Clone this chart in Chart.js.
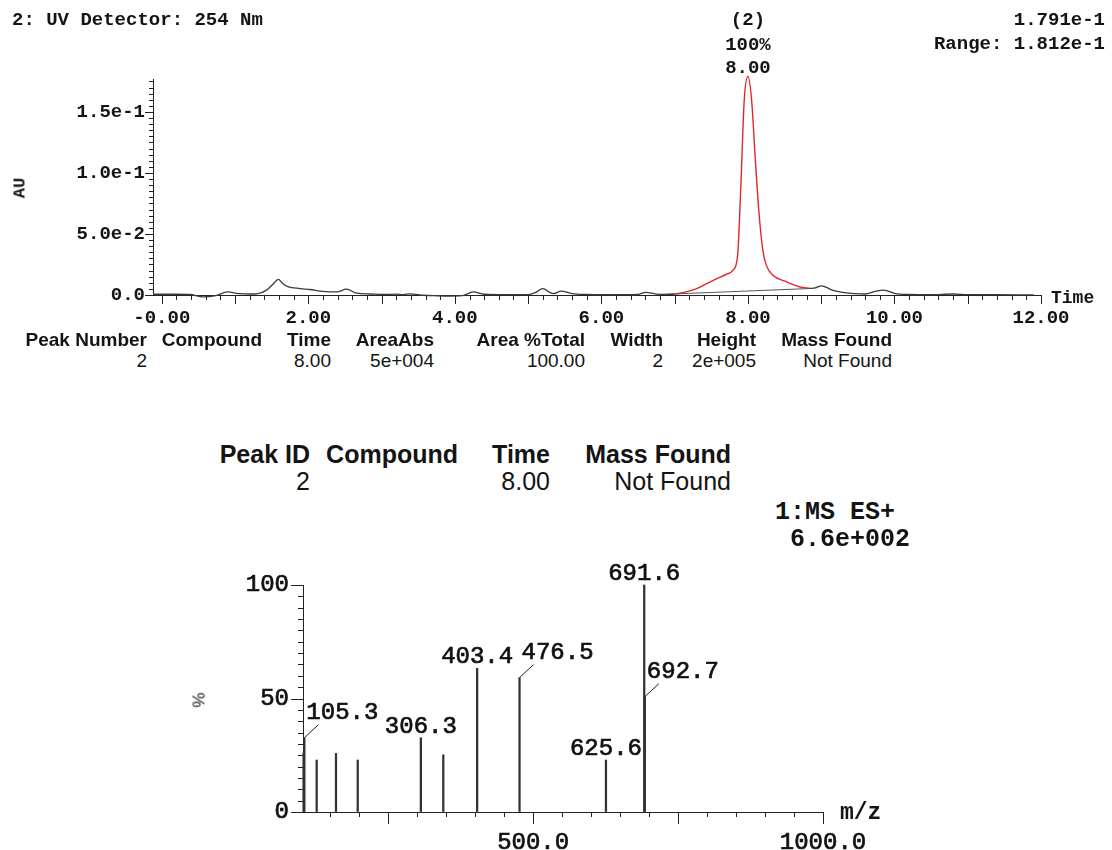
<!DOCTYPE html>
<html>
<head>
<meta charset="utf-8">
<title>UV / MS report</title>
<script src="https://cdn.jsdelivr.net/npm/chart.js@4.4.1/dist/chart.umd.min.js"></script>
<style>
  body { margin: 0; background: #fff; width: 1112px; height: 850px; position: relative; overflow: hidden; }
  canvas { position: absolute; left: 0; }
  #uv { top: 0; }
  #ms { top: 540px; }
  .t { position: absolute; white-space: nowrap; color: #141414; line-height: 1; }
  .mono { font-family: "Liberation Mono", "Courier New", monospace; font-weight: bold; }
  .sans { font-family: "Liberation Sans", Arial, sans-serif; }
</style>
</head>
<body>
<canvas id="uv" width="1112" height="335"></canvas>
<canvas id="ms" width="1112" height="310"></canvas>
<script>
// UV trace (254 nm), time in minutes, absorbance in AU
const uvTime = [-0.12, 0.0, 0.2, 0.38, 0.56, 0.72, 0.9, 1.05, 1.2, 1.3, 1.43, 1.52, 1.59, 1.65, 1.72, 1.89,
  2.02, 2.2, 2.39, 2.52, 2.66, 2.85, 3.02, 3.2, 3.3, 3.39, 3.57, 3.75, 3.93, 4.1, 4.25, 4.4, 4.7, 5.0,
  5.1, 5.2, 5.3, 5.35, 5.45, 5.6, 5.8, 6.0, 6.3, 6.5, 6.6, 6.75, 6.9, 7.0, 7.1, 7.3, 7.5, 7.7, 7.8,
  7.86, 7.9, 7.95, 8.0, 8.05, 8.1, 8.15, 8.2, 8.25, 8.35, 8.5, 8.7, 8.85, 8.92, 9.0, 9.08, 9.15, 9.3,
  9.45, 9.6, 9.75, 9.85, 9.92, 10.0, 10.2, 10.5, 10.8, 11.0, 11.4, 11.9];
const uvAbs = [0.0006, 0.0006, 0.0006, 0.0004, -0.0015, -0.0008, 0.0025, 0.0012, 0.0008, 0.001, 0.004, 0.009, 0.0128, 0.0095, 0.0068, 0.0053,
  0.0045, 0.003, 0.0025, 0.0048, 0.0015, 0.0008, 0.0004, 0.0007, 0.0003, 0.001, -0.0002, -0.0006, -0.0008, -0.0005, 0.0025, 0.0006, 0.0002, 0.0003,
  0.002, 0.0052, 0.002, 0.0012, 0.0032, 0.0012, 0.0004, 0.0002, 0.0002, 0.0004, 0.0022, 0.0008, 0.0005, 0.0007, 0.0018, 0.0052, 0.0112, 0.0168, 0.0205,
  0.033, 0.084, 0.160, 0.1791, 0.160, 0.112, 0.068, 0.038, 0.0245, 0.0158, 0.0115, 0.0068, 0.0054, 0.0058, 0.0075, 0.006, 0.004, 0.0022,
  0.0012, 0.0008, 0.0032, 0.004, 0.003, 0.0014, 0.0004, 0.0002, 0.0008, 0.0003, 0.0002, 0.0001];
const peakStart = 7.0, peakEnd = 8.85, peakTime = 8.00;
const baseTime = [6.85, 8.88];
const baseAbs = [0.0005, 0.0054];
const uvXTicks = [0, 2, 4, 6, 8, 10, 12];
const uvXLabels = ['-0.00', '2.00', '4.00', '6.00', '8.00', '10.00', '12.00'];
const uvYTicks = [0, 0.05, 0.1, 0.15];
const uvYLabels = ['0.0', '5.0e-2', '1.0e-1', '1.5e-1'];

// MS ES+ spectrum, m/z and relative intensity (%)
const msMz = [104.0, 105.3, 126.6, 159.9, 197.4, 306.3, 345.0, 403.4, 476.5, 625.6, 691.6, 692.7];
const msInt = [26.0, 32.7, 22.9, 25.8, 22.9, 32.7, 25.2, 63.3, 59.2, 22.9, 100, 50.8];
const msLabelMz = [105.3, 306.3, 403.4, 476.5, 625.6, 691.6, 692.7];
const msLabelLeader = [true, false, false, true, false, false, true];
const msXTicks = [500, 1000];
const msXLabels = ['500.0', '1000.0'];
const msYTicks = [0, 50, 100];
const msYLabels = ['0', '50', '100'];

// result tables
const t1Head = ['Peak Number', 'Compound', 'Time', 'AreaAbs', 'Area %Total', 'Width', 'Height', 'Mass Found'];
const t1Vals = ['2', '', '8.00', '5e+004', '100.00', '2', '2e+005', 'Not Found'];
const t1Right = [147, 262, 331, 434, 585, 663, 756, 892];
const t2Head = ['Peak ID', 'Compound', 'Time', 'Mass Found'];
const t2Vals = ['2', '', '8.00', 'Not Found'];
const t2Right = [310, 458, 550, 731];

function text(str, x, y, cls, size, align, bold) {
  const d = document.createElement('div');
  d.className = 't ' + cls;
  d.textContent = str;
  d.style.fontSize = size + 'px';
  d.style.left = x + 'px';
  d.style.top = y + 'px';
  if (bold) d.style.fontWeight = 'bold';
  const tx = align === 'right' ? '-100%' : align === 'center' ? '-50%' : '0';
  d.style.transform = 'translate(' + tx + ',-50%)';
  document.body.appendChild(d);
}

text('2: UV Detector: 254 Nm', 12, 20, 'mono', 19, 'left');
text('1.791e-1', 1105, 20, 'mono', 19, 'right');
text('Range: 1.812e-1', 1105, 44, 'mono', 19, 'right');
text('Time', 1051, 298, 'mono', 18, 'left');
t1Head.forEach((h, i) => text(h, t1Right[i], 339, 'sans', 19, 'right', true));
t1Vals.forEach((v, i) => v && text(v, t1Right[i], 360, 'sans', 19, 'right'));
t2Head.forEach((h, i) => text(h, t2Right[i], 454, 'sans', 25, 'right', true));
t2Vals.forEach((v, i) => v && text(v, t2Right[i], 481, 'sans', 25, 'right'));
text('1:MS ES+', 775, 512, 'mono', 25, 'left');
text('6.6e+002', 790, 539, 'mono', 25, 'left');
text('m/z', 840, 813, 'mono', 23, 'left');

// rotated axis titles
function vtext(str, cx, cy, cls, size) {
  const d = document.createElement('div');
  d.className = 't ' + cls;
  d.textContent = str;
  d.style.fontSize = size + 'px';
  d.style.left = cx + 'px';
  d.style.top = cy + 'px';
  d.style.transform = 'translate(-50%,-50%) rotate(-90deg)';
  document.body.appendChild(d);
}
vtext('AU', 20, 188, 'mono', 17);
vtext('%', 199, 700, 'sans', 17);

const monoFont = { family: '"Liberation Mono", "Courier New", monospace', weight: 'bold', size: 19 };

// draws axis tick marks of several lengths through the chart's own scales
const tickMarks = {
  id: 'tickMarks',
  afterDraw(chart, args, opts) {
    const { ctx, scales: { x, y } } = chart;
    ctx.save();
    ctx.strokeStyle = '#222';
    ctx.lineWidth = 1;
    ctx.beginPath();
    opts.xValues.forEach(v => {
      const p = Math.round(x.getPixelForValue(v)) + 0.5;
      ctx.moveTo(p, x.top);
      ctx.lineTo(p, x.top + opts.xLen(v));
    });
    opts.yValues.forEach(v => {
      const p = Math.round(y.getPixelForValue(v)) + 0.5;
      ctx.moveTo(y.right, p);
      ctx.lineTo(y.right - opts.yLen(v), p);
    });
    ctx.stroke();
    ctx.restore();
  }
};

const near = (a, b) => Math.abs(a - b) < 1e-6;

const uvXMinor = [];
for (let i = 0; i <= 60; i++) uvXMinor.push(i * 0.2);
const uvYMinor = [];
for (let i = 0; i <= 35; i++) uvYMinor.push(i * 0.005);

const peakNote = {
  id: 'peakNote',
  afterDraw(chart) {
    const { ctx, scales: { x } } = chart;
    const px = x.getPixelForValue(peakTime);
    ctx.save();
    ctx.font = 'bold 19px "Liberation Mono", monospace';
    ctx.fillStyle = '#141414';
    ctx.textAlign = 'center';
    ctx.textBaseline = 'middle';
    ctx.fillText('(2)', px, 20);
    ctx.fillText('100%', px, 45);
    ctx.fillText(peakTime.toFixed(2), px, 68);
    ctx.restore();
  }
};

// black trace leaves a gap where the integrated peak is drawn in red
const trace = uvTime.map((t, i) => ({ x: t, y: (t > peakStart && t < peakEnd) ? null : uvAbs[i] }));
const peakPts = uvTime.map((t, i) => ({ x: t, y: uvAbs[i] })).filter(p => p.x >= peakStart && p.x <= peakEnd);
const basePts = baseTime.map((t, i) => ({ x: t, y: baseAbs[i] }));

new Chart(document.getElementById('uv'), {
  type: 'line',
  data: {
    datasets: [
      { data: trace, borderColor: '#3a3a3a', borderWidth: 1.3, pointRadius: 0, cubicInterpolationMode: 'monotone', spanGaps: false, clip: false },
      { data: basePts, borderColor: '#555', borderWidth: 1, pointRadius: 0, clip: false },
      { data: peakPts, borderColor: '#e3262b', borderWidth: 1.4, pointRadius: 0, cubicInterpolationMode: 'monotone', clip: false }
    ]
  },
  options: {
    responsive: false,
    animation: false,
    layout: { padding: { left: 0, right: 71, top: 79, bottom: 0 } },
    plugins: {
      legend: { display: false },
      tooltip: { enabled: false },
      tickMarks: {
        xValues: uvXMinor,
        xLen: v => (near(v, Math.round(v)) ? 9 : 5),
        yValues: uvYMinor,
        yLen: v => (uvYTicks.some(t => near(t, v)) ? 8 : 4)
      }
    },
    scales: {
      x: {
        type: 'linear', min: -0.12, max: 12,
        afterFit: s => { s.height = 40; },
        afterBuildTicks: s => { s.ticks = uvXTicks.map(v => ({ value: v })); },
        grid: { display: true, drawOnChartArea: false, drawTicks: false },
        border: { display: true, color: '#222', width: 1 },
        ticks: { font: monoFont, color: '#141414', padding: 12, maxRotation: 0, autoSkip: false,
          callback: (v, i) => uvXLabels[i] }
      },
      y: {
        type: 'linear', min: 0, max: 0.177,
        afterFit: s => { s.width = 153; },
        afterBuildTicks: s => { s.ticks = uvYTicks.map(v => ({ value: v })); },
        grid: { display: true, drawOnChartArea: false, drawTicks: false },
        border: { display: true, color: '#222', width: 1 },
        ticks: { font: monoFont, color: '#141414', padding: 8, autoSkip: false,
          callback: (v, i) => uvYLabels[i] }
      }
    }
  },
  plugins: [tickMarks, peakNote]
});

// mass spectrum
const msXMinor = [];
for (let m = 150; m <= 1000; m += 50) msXMinor.push(m);
const msYMinor = [];
for (let p = 0; p <= 100; p += 5) msYMinor.push(p);

const msPeakLabels = {
  id: 'msPeakLabels',
  afterDatasetsDraw(chart) {
    const { ctx, scales: { x, y } } = chart;
    ctx.save();
    ctx.font = '24px "Liberation Mono", monospace';
    ctx.fillStyle = '#111';
    ctx.strokeStyle = '#222';
    ctx.lineWidth = 1;
    ctx.textBaseline = 'alphabetic';
    msLabelMz.forEach((mz, i) => {
      const k = msMz.indexOf(mz);
      const px = x.getPixelForValue(mz);
      const py = y.getPixelForValue(msInt[k]);
      const label = mz.toFixed(1);
      let tx, ty;
      if (msLabelLeader[i]) {
        ctx.beginPath();
        ctx.moveTo(px, py);
        ctx.lineTo(px + 14, py - 13);
        ctx.stroke();
        ctx.textAlign = 'left';
        tx = px + 2; ty = py - 19;
      } else {
        ctx.textAlign = 'center';
        tx = px; ty = py - 5;
      }
      ctx.fillText(label, tx, ty);
      ctx.save();
      ctx.lineWidth = 0.7;
      ctx.strokeStyle = '#111';
      ctx.strokeText(label, tx, ty);
      ctx.restore();
    });
    ctx.restore();
  }
};

const msFont = { family: '"Liberation Mono", "Courier New", monospace', size: 24 };

new Chart(document.getElementById('ms'), {
  type: 'bar',
  data: {
    datasets: [{
      data: msMz.map((m, i) => ({ x: m, y: msInt[i] })),
      backgroundColor: '#333',
      barThickness: 1.6,
      clip: false
    }]
  },
  options: {
    responsive: false,
    animation: false,
    layout: { padding: { left: 0, right: 289, top: 45, bottom: 0 } },
    plugins: {
      legend: { display: false },
      tooltip: { enabled: false },
      tickMarks: {
        xValues: msXMinor,
        xLen: v => (v % 250 === 0 ? 12 : 5),
        yValues: msYMinor,
        yLen: v => (v % 50 === 0 ? 12 : 5)
      }
    },
    scales: {
      x: {
        type: 'linear', min: 103, max: 1000, offset: false,
        afterFit: s => { s.height = 38; },
        afterBuildTicks: s => { s.ticks = msXTicks.map(v => ({ value: v })); },
        grid: { display: true, drawOnChartArea: false, drawTicks: false, offset: false },
        border: { display: true, color: '#222', width: 1 },
        ticks: { font: msFont, color: '#111', textStrokeColor: '#111', textStrokeWidth: 0.7,
          padding: 16, maxRotation: 0, autoSkip: false, callback: (v, i) => msXLabels[i] }
      },
      y: {
        type: 'linear', min: 0, max: 100,
        afterFit: s => { s.width = 303; },
        afterBuildTicks: s => { s.ticks = msYTicks.map(v => ({ value: v })); },
        grid: { display: true, drawOnChartArea: false, drawTicks: false },
        border: { display: true, color: '#222', width: 1 },
        ticks: { font: msFont, color: '#111', textStrokeColor: '#111', textStrokeWidth: 0.7,
          padding: 14, autoSkip: false, callback: (v, i) => msYLabels[i] }
      }
    }
  },
  plugins: [tickMarks, msPeakLabels]
});
</script>
</body>
</html>
